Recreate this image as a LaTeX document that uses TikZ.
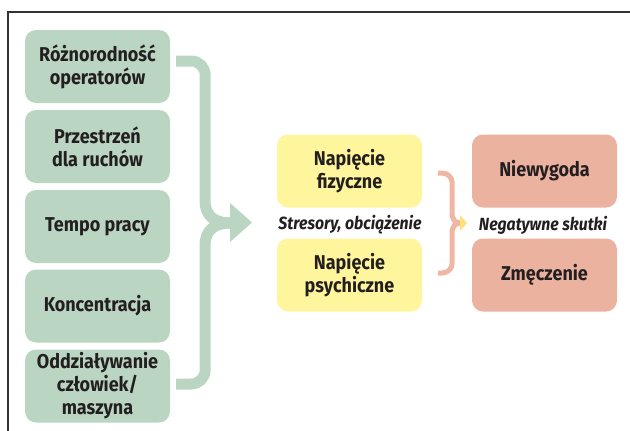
\documentclass[tikz,border=0pt]{standalone}
\usepackage{fontspec}
\usetikzlibrary{calc}
\setmainfont{Fira Sans}[FakeStretch=0.9]
\definecolor{boxgreen}{HTML}{BAD5C1}
\definecolor{boxyellow}{HTML}{FFF59C}
\definecolor{boxsalmon}{HTML}{EBB29F}
\definecolor{bracesalmon}{HTML}{EFB6A3}
\definecolor{tipyellow}{HTML}{FFE27A}
\definecolor{txt}{HTML}{231F20}
\definecolor{frame}{HTML}{333333}
\tikzset{
  box/.style={rounded corners=11pt, minimum width=145pt, minimum height=73pt, inner sep=0pt,
    align=center, text=txt, font=\fontsize{20}{23}\selectfont\bfseries},
  gbox/.style={box, fill=boxgreen},
  ybox/.style={box, fill=boxyellow},
  sbox/.style={box, fill=boxsalmon},
  lbl/.style={text=txt, font=\fontsize{17.6}{19}\selectfont\bfseries\itshape},
  garrow/.style={draw=boxgreen, line width=11pt},
  obrace/.style={draw=bracesalmon, line width=5pt},
}
\begin{document}
\begin{tikzpicture}[x=1pt,y=-1pt]
\useasboundingbox (0,0) rectangle (630,431);
\draw[frame, line width=1.5pt] (8,432) -- (8,12) -- (630,12);

\node[gbox] (g1) at (97.5,66.5) {Różnorodność\\operatorów};
\node[gbox] (g2) at (97.5,146.5) {Przestrzeń\\dla ruchów};
\node[gbox] (g3) at (97.5,226.5) {Tempo pracy};
\node[gbox] (g4) at (97.5,306) {Koncentracja};
\node[gbox] (g5) at (97.5,386) {Oddziaływanie\\człowiek/\\maszyna};

\node[ybox] (y1) at (349.5,171) {Napięcie\\fizyczne};
\node[ybox] (y2) at (349.5,275) {Napięcie\\psychiczne};
\node[sbox] (s1) at (544.5,171) {Niewygoda};
\node[sbox] (s2) at (544.5,275) {Zmęczenie};

\node[lbl] (l1) at (350,225) {Stresory, obciążenie};
\node[lbl] (l2) at (543,225) {Negatywne skutki};

% green brace arrow
\coordinate (gj) at (232,223);
\coordinate (gs1) at ($(g1.east)+(6,-5.5)$);
\coordinate (gs5) at ($(g5.east)+(6,-2)$);
\draw[garrow] (gs1) -- ++(15,0) arc[start angle=-90, end angle=0, radius=14]
  -- (205,200) .. controls (205,217) and (215,223) .. (gj);
\draw[garrow] (gs5) -- ++(15,0) arc[start angle=90, end angle=0, radius=14]
  -- (205,246) .. controls (205,229) and (215,223) .. (gj);
\fill[boxgreen] (230,203) -- (252,222.5) -- (230,242) -- cycle;

% salmon brace
\coordinate (oj) at (461,223);
\coordinate (os1) at ($(y1.east)+(16,2)$);
\coordinate (os2) at ($(y2.east)+(16,-2)$);
\draw[obrace] (os1) -- ++(4,0) arc[start angle=-90, end angle=0, radius=10]
  -- (452,212) .. controls (452,220) and (455,223) .. (oj);
\draw[obrace] (os2) -- ++(4,0) arc[start angle=90, end angle=0, radius=10]
  -- (452,234) .. controls (452,226) and (455,223) .. (oj);
\fill[tipyellow] (460,215) -- (467,223) -- (460,231) -- cycle;
\end{tikzpicture}
\end{document}
